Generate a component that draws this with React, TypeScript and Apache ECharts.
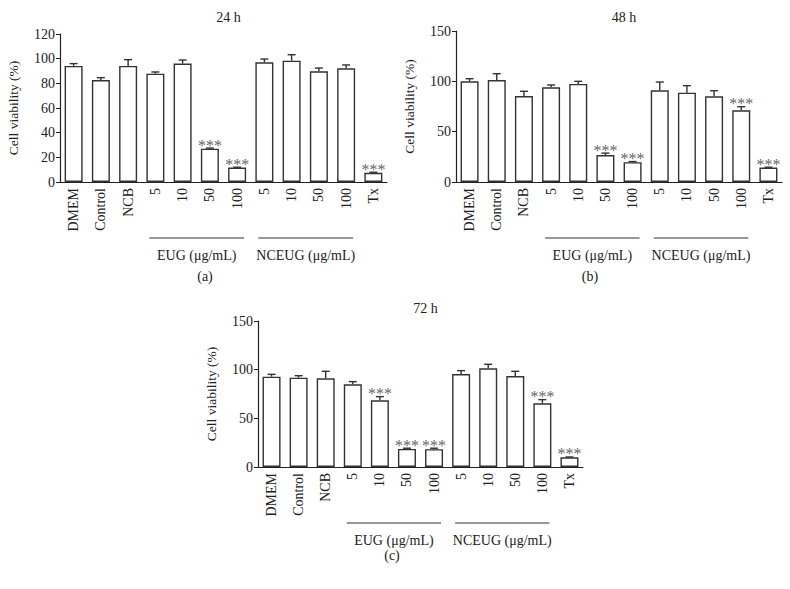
import React, { useEffect, useRef } from "react";
import * as echarts from "echarts";

const categories = ["DMEM", "Control", "NCB", "5", "10", "50", "100", "5", "10", "50", "100", "Tx"];

const mean24 = [94.1, 82.7, 94.1, 87.8, 96.0, 27.0, 11.7, 97.0, 98.4, 89.7, 92.2, 7.4];
const sd24 = [1.9, 1.9, 5.1, 1.4, 2.9, 0.5, 0.3, 2.7, 4.8, 2.7, 2.7, 0.5];
const stars24 = [5, 6, 11];

const mean48 = [100, 101.3, 85.4, 94.0, 97.4, 26.7, 19.7, 91.1, 88.7, 85.1, 71.2, 14.3];
const sd48 = [2.6, 6.3, 4.7, 2.4, 2.6, 2.0, 0.6, 8.2, 7.0, 5.6, 3.6, 0.4];
const stars48 = [5, 6, 10, 11];

const mean72 = [92.8, 91.8, 91.1, 84.9, 68.5, 18.6, 18.3, 95.5, 101.4, 93.5, 65.4, 10.0];
const sd72 = [2.4, 2.0, 7.2, 2.8, 3.8, 0.7, 1.0, 3.5, 4.1, 4.8, 3.8, 0.3];
const stars72 = [4, 5, 6, 10, 11];

const panelTitles = ["24 h", "48 h", "72 h"];
const panelLetters = ["(a)", "(b)", "(c)"];
const yMax = [120, 150, 150];
const yInterval = [20, 50, 50];
const groupNames = ["EUG (\u03bcg/mL)", "NCEUG (\u03bcg/mL)"];
const groupRanges = [[3, 6], [7, 10]];

const FONT = "Liberation Serif";
const INK = "#222";

const grids = [
  { left: 60, top: 34, width: 327, height: 148 },
  { left: 456, top: 31, width: 326, height: 151 },
  { left: 258, top: 321, width: 325, height: 146 },
];
const letterPos = [
  [205, 276],
  [590, 276],
  [392, 555],
];

export default function App() {
  const ref = useRef<HTMLDivElement>(null);
  useEffect(() => {
    if (!ref.current) return;
    const chart = echarts.init(ref.current, null, { renderer: "svg" });
    const means = [mean24, mean48, mean72];
    const sds = [sd24, sd48, sd72];
    const stars = [stars24, stars48, stars72];

    const series: any[] = [];
    means.forEach((m, p) => {
      series.push({
        type: "bar",
        xAxisIndex: p,
        yAxisIndex: p,
        data: m,
        barWidth: 18,
        itemStyle: { color: "#fff", borderColor: "#333", borderWidth: 1.4 },
        z: 2,
      });
      series.push({
        type: "custom",
        xAxisIndex: p,
        yAxisIndex: p,
        z: 3,
        data: m.map((v, i) => [i, v, v + sds[p][i], stars[p].includes(i) ? 1 : 0]),
        renderItem: (params: any, api: any) => {
          const i = api.value(0);
          const p0 = api.coord([i, api.value(1)]);
          const p1 = api.coord([i, api.value(2)]);
          const children: any[] = [
            { type: "line", shape: { x1: p0[0], y1: p0[1], x2: p1[0], y2: p1[1] }, style: { stroke: "#333", lineWidth: 1.4 } },
            { type: "line", shape: { x1: p1[0] - 4, y1: p1[1], x2: p1[0] + 4, y2: p1[1] }, style: { stroke: "#333", lineWidth: 1.4 } },
          ];
          if (api.value(3) === 1) {
            children.push({
              type: "text",
              x: p1[0],
              y: p1[1] - 3,
              style: { text: "***", fontFamily: FONT, fontSize: 16, fill: "#666", align: "center", verticalAlign: "middle" },
            });
          }
          return { type: "group", children };
        },
      });
    });

    const option: any = {
      animation: false,
      textStyle: { fontFamily: FONT, color: INK },
      title: grids.map((g, p) => ({
        text: panelTitles[p],
        left: g.left + g.width / 2,
        top: p === 2 ? 296 : 5,
        textAlign: "center",
        textStyle: { fontFamily: FONT, fontSize: 14, fontWeight: "normal", color: INK },
      })),
      grid: grids.map((g) => ({ ...g, containLabel: false })),
      xAxis: grids.map((g, p) => ({
        type: "category",
        gridIndex: p,
        data: categories,
        axisLine: { lineStyle: { color: INK, width: 1.2 } },
        axisTick: { alignWithLabel: true, length: 4, lineStyle: { color: INK } },
        axisLabel: { rotate: 90, margin: 6, fontFamily: FONT, fontSize: 14, color: INK, interval: 0 },
      })),
      yAxis: grids.map((g, p) => ({
        type: "value",
        gridIndex: p,
        min: 0,
        max: yMax[p],
        interval: yInterval[p],
        name: "Cell viability (%)",
        nameLocation: "middle",
        nameGap: 40,
        nameTextStyle: { fontFamily: FONT, fontSize: 13.5, color: INK },
        splitLine: { show: false },
        axisLine: { show: true, lineStyle: { color: INK, width: 1.2 } },
        axisTick: { show: true, length: 4, lineStyle: { color: INK } },
        axisLabel: { margin: 5, fontFamily: FONT, fontSize: 14, color: INK },
      })),
      series,
    };
    chart.setOption(option);

    const graphics: any[] = [];
    grids.forEach((g, p) => {
      const y0 = g.top + g.height;
      groupRanges.forEach((r, k) => {
        const a = chart.convertToPixel({ xAxisIndex: p, yAxisIndex: p } as any, [r[0], 0]) as number[];
        const b = chart.convertToPixel({ xAxisIndex: p, yAxisIndex: p } as any, [r[1], 0]) as number[];
        const x1 = a[0] - 6;
        const x2 = b[0] + 7;
        graphics.push({
          type: "line",
          shape: { x1, y1: y0 + 56, x2, y2: y0 + 56 },
          style: { stroke: "#777", lineWidth: 1.6 },
        });
        graphics.push({
          type: "text",
          x: (x1 + x2) / 2,
          y: y0 + 73,
          style: { text: groupNames[k], fontFamily: FONT, fontSize: 14, fill: INK, align: "center", verticalAlign: "middle" },
        });
      });
      graphics.push({
        type: "text",
        x: letterPos[p][0],
        y: letterPos[p][1],
        style: { text: panelLetters[p], fontFamily: FONT, fontSize: 14, fill: INK, align: "center", verticalAlign: "middle" },
      });
    });
    chart.setOption({ graphic: graphics });

    return () => chart.dispose();
  }, []);
  return <div ref={ref} style={{ position: "absolute", left: 0, top: 0, width: 790, height: 589, background: "#fff" }} />;
}
